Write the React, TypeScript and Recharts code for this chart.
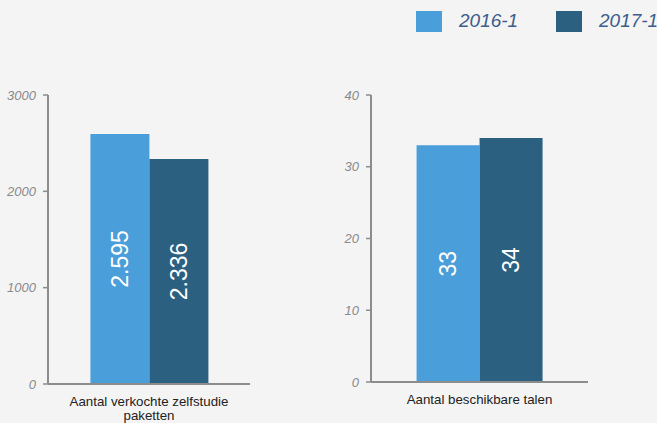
import React from "react";
import { BarChart, Bar, XAxis, YAxis, LabelList } from "recharts";

const seriesNames = ["2016-1", "2017-1"];
const COLORS = ["#4a9ed9", "#2b6080"];

const categoriesLeft = ["Aantal verkochte zelfstudie paketten"];
const values2016Left = [2595];
const values2017Left = [2336];
const ticksLeft = [0, 1000, 2000, 3000];

const categoriesRight = ["Aantal beschikbare talen"];
const values2016Right = [33];
const values2017Right = [34];
const ticksRight = [0, 10, 20, 30, 40];

const FONT = "'Liberation Sans', Arial, sans-serif";
const AXIS = "#8c8c8c";

const toRows = (cats: string[], a: number[], b: number[]) =>
  cats.map((name, i) => ({ name, s1: a[i], s2: b[i] }));

const dutch = (v: number) =>
  String(v).replace(/\B(?=(\d{3})+(?!\d))/g, ".");

// simple word wrap by character count
const wrap = (s: string, max: number) => {
  const lines: string[] = [];
  let cur = "";
  s.split(" ").forEach((w) => {
    const next = cur ? cur + " " + w : w;
    if (next.length > max && cur) {
      lines.push(cur);
      cur = w;
    } else {
      cur = next;
    }
  });
  if (cur) lines.push(cur);
  return lines;
};

const BarValue = (props: any) => {
  const { x, y, width, height, value } = props;
  const cx = x + width / 2;
  const cy = y + height / 2;
  return (
    <text
      x={cx}
      y={cy}
      transform={`rotate(-90, ${cx}, ${cy})`}
      textAnchor="middle"
      dominantBaseline="central"
      fill="#ffffff"
      fontSize={23}
      fontFamily={FONT}
    >
      {dutch(value)}
    </text>
  );
};

const CategoryTick = (props: any) => {
  const { x, y, payload } = props;
  const lines = wrap(String(payload.value), 30);
  return (
    <text
      x={x}
      y={y + 22}
      textAnchor="middle"
      fill="#222222"
      fontSize={13.3}
      fontFamily={FONT}
    >
      {lines.map((l, i) => (
        <tspan key={i} x={x} dy={i === 0 ? 0 : 13.5}>
          {l}
        </tspan>
      ))}
    </text>
  );
};

function Panel(props: {
  data: any[];
  ticks: number[];
  width: number;
  yWidth: number;
  xHeight: number;
  left: number;
}) {
  const { data, ticks, width, yWidth, xHeight, left } = props;
  return (
    <div style={{ position: "absolute", left, top: 0 }}>
      <BarChart
        width={width}
        height={423}
        data={data}
        margin={{ top: 95, right: 0, bottom: 0, left: 0 }}
        barCategoryGap="21%"
        barGap={0}
      >
        <XAxis
          dataKey="name"
          height={xHeight}
          axisLine={{ stroke: AXIS, strokeWidth: 2 }}
          tickLine={false}
          tickSize={0}
          tickMargin={0}
          tick={<CategoryTick />}
          interval={0}
        />
        <YAxis
          width={yWidth}
          domain={[0, ticks[ticks.length - 1]]}
          ticks={ticks}
          interval={0}
          axisLine={{ stroke: AXIS, strokeWidth: 2 }}
          tickLine={{ stroke: AXIS, strokeWidth: 1.5 }}
          tickSize={5}
          tickMargin={7}
          tick={{
            fill: "#8a8a8a",
            fontSize: 13,
            fontStyle: "italic",
            fontFamily: FONT,
          }}
        />
        <Bar dataKey="s1" fill={COLORS[0]} isAnimationActive={false}>
          <LabelList dataKey="s1" content={<BarValue />} />
        </Bar>
        <Bar dataKey="s2" fill={COLORS[1]} isAnimationActive={false}>
          <LabelList dataKey="s2" content={<BarValue />} />
        </Bar>
      </BarChart>
    </div>
  );
}

export default function App() {
  const leftData = toRows(categoriesLeft, values2016Left, values2017Left);
  const rightData = toRows(categoriesRight, values2016Right, values2017Right);

  return (
    <div
      style={{
        position: "absolute",
        left: 0,
        top: 0,
        width: 657,
        height: 423,
        overflow: "hidden",
        background: "#f4f4f4",
        fontFamily: FONT,
      }}
    >
      <Panel data={leftData} ticks={ticksLeft} width={250} yWidth={48} xHeight={39} left={0} />
      <Panel data={rightData} ticks={ticksRight} width={268} yWidth={51} xHeight={41} left={320} />

      {seriesNames.map((name, i) => (
        <div
          key={name}
          style={{
            position: "absolute",
            top: 10,
            left: 416 + i * 140,
            display: "flex",
            alignItems: "center",
            whiteSpace: "nowrap",
          }}
        >
          <div style={{ width: 26, height: 21, background: COLORS[i] }} />
          <span
            style={{
              marginLeft: 17,
              fontSize: 19,
              fontStyle: "italic",
              color: "#3b5e8c",
            }}
          >
            {name}
          </span>
        </div>
      ))}
    </div>
  );
}
